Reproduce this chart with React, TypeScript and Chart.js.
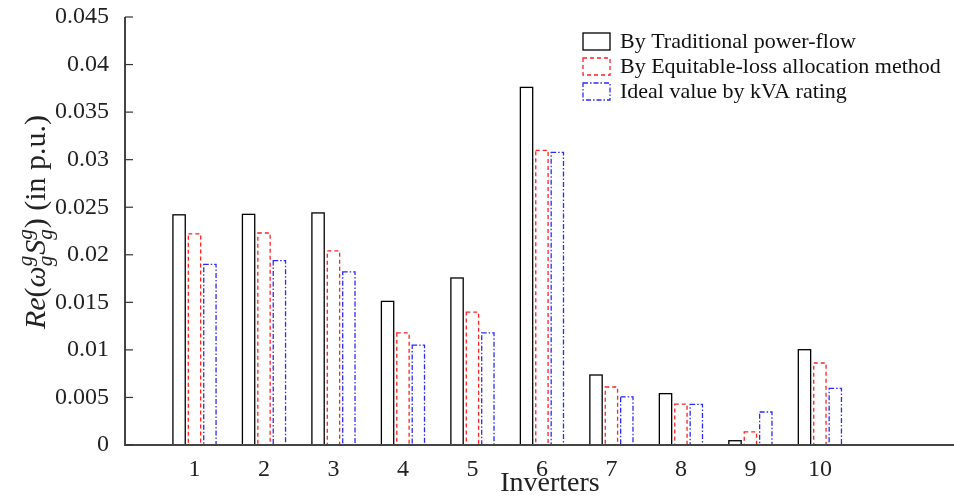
import React, { useEffect, useRef } from "react";
import { Chart, registerables } from "chart.js";

Chart.register(...registerables);

const inverters = [1, 2, 3, 4, 5, 6, 7, 8, 9, 10];
const traditional = [0.0242, 0.02425, 0.0244, 0.0151, 0.01756, 0.0376, 0.00736, 0.0054, 0.00045, 0.01002];
const equitable = [0.0222, 0.02229, 0.0204, 0.01178, 0.01398, 0.03098, 0.0061, 0.0043, 0.00137, 0.00862];
const ideal = [0.0190, 0.01938, 0.0182, 0.01051, 0.01178, 0.03077, 0.00505, 0.00428, 0.00347, 0.00596];
const seriesNames = [
  "By Traditional power-flow",
  "By Equitable-loss allocation method",
  "Ideal value by kVA rating",
];
const yTicks = [0, 0.005, 0.01, 0.015, 0.02, 0.025, 0.03, 0.035, 0.04, 0.045];

const SERIF = "'Liberation Serif', 'DejaVu Serif', serif";
const styles = [
  { color: "#000000", dash: [] as number[], width: 1.3 },
  { color: "#ff2020", dash: [4, 3], width: 1.3 },
  { color: "#2a2aff", dash: [5, 2, 1.5, 2], width: 1.3 },
];

const overlay = {
  id: "overlay",
  afterDatasetsDraw(chart: any) {
    const ctx = chart.ctx as CanvasRenderingContext2D;
    chart.data.datasets.forEach((_ds: any, i: number) => {
      const meta = chart.getDatasetMeta(i);
      const st = styles[i];
      ctx.save();
      ctx.strokeStyle = st.color;
      ctx.lineWidth = st.width;
      ctx.setLineDash(st.dash);
      meta.data.forEach((el: any) => {
        const p = el.getProps(["x", "y", "base", "width"], true);
        const l = p.x - p.width / 2;
        ctx.strokeRect(l, p.y, p.width, p.base - p.y);
      });
      ctx.restore();
    });
  },
  afterDraw(chart: any) {
    const ctx = chart.ctx as CanvasRenderingContext2D;
    const area = chart.chartArea;
    const ys = chart.scales.y;
    ctx.save();
    ctx.strokeStyle = "#444";
    ctx.lineWidth = 2;
    ctx.beginPath();
    ctx.moveTo(area.left, area.top);
    ctx.lineTo(area.left, area.bottom);
    ctx.lineTo(area.right, area.bottom);
    ctx.stroke();
    ctx.lineWidth = 1.2;
    ctx.strokeStyle = "#333";
    ys.ticks.forEach((t: any) => {
      const py = ys.getPixelForValue(t.value);
      ctx.beginPath();
      ctx.moveTo(area.left, py);
      ctx.lineTo(area.left + 8, py);
      ctx.stroke();
    });
    ctx.restore();

    ctx.save();
    const bx = 583, bw = 27, bh = 17;
    const rows = [33, 58, 83];
    seriesNames.forEach((name, i) => {
      const st = styles[i];
      ctx.strokeStyle = st.color;
      ctx.lineWidth = st.width;
      ctx.setLineDash(st.dash);
      ctx.strokeRect(bx, rows[i], bw, bh);
      ctx.setLineDash([]);
      ctx.fillStyle = "#111";
      ctx.font = `22px ${SERIF}`;
      ctx.textBaseline = "middle";
      ctx.textAlign = "left";
      ctx.fillText(name, 620, rows[i] + bh / 2 + 1);
    });
    ctx.restore();

    ctx.save();
    ctx.fillStyle = "#222";
    ctx.font = `28px ${SERIF}`;
    ctx.textAlign = "center";
    ctx.textBaseline = "alphabetic";
    ctx.fillText("Inverters", 550, 491);
    ctx.restore();

    ctx.save();
    ctx.translate(45, 222);
    ctx.rotate(-Math.PI / 2);
    ctx.fillStyle = "#222";
    ctx.textBaseline = "alphabetic";
    ctx.textAlign = "left";
    const big = 30, small = 21;
    type Piece = { t: string; it: boolean; size: number; dy: number; stackBack?: boolean; gap?: number };
    const pieces: Piece[] = [
      { t: "Re", it: true, size: big, dy: 0 },
      { t: "(", it: false, size: big, dy: 0 },
      { t: "ω", it: true, size: big, dy: 0 },
      { t: "g", it: true, size: small, dy: -13, gap: 1 },
      { t: "g", it: true, size: small, dy: 7, stackBack: true },
      { t: "S", it: true, size: big, dy: 0 },
      { t: "g", it: true, size: small, dy: -13, gap: 1 },
      { t: "g", it: true, size: small, dy: 7, stackBack: true },
      { t: ")", it: false, size: big, dy: 0 },
      { t: " (in p.u.)", it: false, size: big, dy: 0 },
    ];
    const fontOf = (p: Piece) => `${p.it ? "italic " : ""}${p.size}px ${SERIF}`;
    let total = 0;
    let lastW = 0;
    const xs: number[] = [];
    pieces.forEach((p) => {
      ctx.font = fontOf(p);
      const w = ctx.measureText(p.t).width + (p.gap || 0);
      if (p.stackBack) {
        xs.push(total - lastW);
      } else {
        xs.push(total);
        total += w;
        lastW = w;
      }
    });
    const start = -total / 2;
    pieces.forEach((p, i) => {
      ctx.font = fontOf(p);
      ctx.fillText(p.t, start + xs[i], p.dy);
    });
    ctx.restore();
  },
};

export default function App() {
  const ref = useRef<HTMLCanvasElement | null>(null);
  useEffect(() => {
    document.body.style.margin = "0";
    const canvas = ref.current!;
    const mk = (vals: number[]) => inverters.map((x, i) => ({ x, y: vals[i] }));
    const chart = new Chart(canvas, {
      type: "bar",
      data: {
        datasets: [traditional, equitable, ideal].map((vals, i) => ({
          label: seriesNames[i],
          data: mk(vals),
          backgroundColor: "rgba(0,0,0,0)",
          borderWidth: 0,
          categoryPercentage: 0.665,
          barPercentage: 0.8,
        })),
      },
      options: {
        responsive: false,
        animation: false,
        layout: { padding: { top: 17, right: 0, left: 0, bottom: 0 } },
        plugins: { legend: { display: false }, tooltip: { enabled: false } },
        scales: {
          x: {
            type: "linear",
            offset: false,
            min: 0,
            max: 11.93,
            grid: { display: false, drawTicks: false, offset: false },
            border: { display: false },
            afterFit: (s: any) => {
              s.height = 54;
              s.paddingRight = 0;
              s.paddingLeft = 0;
            },
            ticks: {
              stepSize: 1,
              autoSkip: false,
              maxRotation: 0,
              padding: 10,
              color: "#222",
              font: { family: SERIF, size: 24 },
              callback: (v: any) => {
                const n = Number(v);
                return inverters.includes(n) ? String(n) : "";
              },
            },
          },
          y: {
            min: 0,
            max: 0.045,
            grid: { display: false, drawTicks: false },
            border: { display: false },
            afterFit: (s: any) => {
              s.width = 125;
              s.paddingTop = 0;
              s.paddingBottom = 0;
            },
            afterBuildTicks: (s: any) => {
              s.ticks = yTicks.map((v) => ({ value: v }));
            },
            ticks: {
              padding: 16,
              color: "#222",
              font: { family: SERIF, size: 24 },
              callback: (v: any) => {
                const n = Number(v);
                return n === 0 ? "0" : String(parseFloat(n.toFixed(3)));
              },
            },
          },
        },
      },
      plugins: [overlay],
    } as any);
    return () => chart.destroy();
  }, []);
  return (
    <div style={{ width: 954, height: 499, background: "#fff" }}>
      <canvas ref={ref} width={954} height={499} style={{ display: "block" }} />
    </div>
  );
}
